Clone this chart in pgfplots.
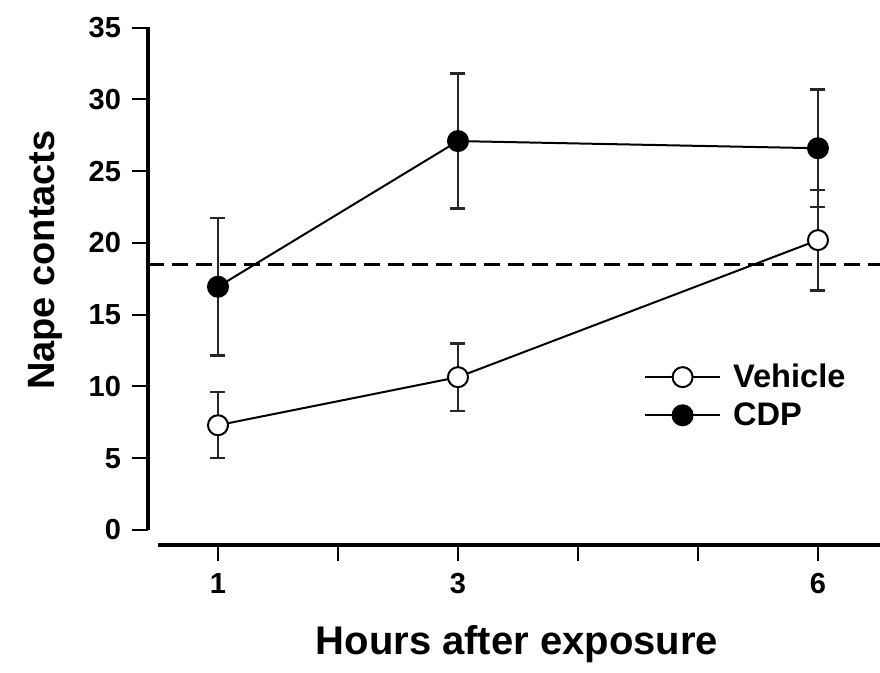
\documentclass[border=0pt]{standalone}
\usepackage{fontspec}
\setmainfont{Liberation Sans}
\usepackage{pgfplots}
\pgfplotsset{compat=1.18}
\begin{document}
\begin{tikzpicture}
\begin{axis}[
  scale only axis, width=366pt, height=259pt,
  at={(0,0)}, anchor=south west,
  xmin=0.4167, xmax=6.517, ymin=-1.045, ymax=35.05,
  axis lines*=left,
  x axis line style={line width=2.4pt, -, shorten <=5pt},
  y axis line style={line width=2.4pt, -, shorten <=7.5pt},
  xtick={1,2,3,4,5,6}, xticklabels={1,,3,,,6},
  ytick={0,5,...,35},
  tick align=outside, major tick length=8pt,
  tick style={line width=1pt, black},
  /pgf/number format/assume math mode=true,
  ticklabel style={font=\bfseries\fontsize{14.5}{14.5}\selectfont},
  xticklabel style={yshift=-2.5pt},
  yticklabel style={xshift=-2pt},
  xlabel={Hours after exposure}, ylabel={Nape contacts},
  xlabel style={font=\bfseries\fontsize{20}{20}\selectfont, at={(axis description cs:0.504,-0.212)}, anchor=base},
  ylabel style={font=\bfseries\fontsize{19}{20}\selectfont, at={(axis description cs:-0.14,0.55)}, anchor=center, rotate=0},
  legend style={draw=none, fill=none, at={(axis description cs:0.669,0.366)}, anchor=north west,
    font=\bfseries\fontsize{16.3}{16.3}\selectfont, row sep=2pt, column sep=4pt},
  legend cell align=left,
  legend image code/.code={\draw[mark repeat=2,mark phase=2,#1] plot coordinates {(0pt,0pt) (18.75pt,0pt) (37.5pt,0pt)};},
  clip=false,
]
\addplot[black, line width=1.2pt, dash pattern=on 8pt off 4pt, forget plot] coordinates {(0.4167,18.5) (6.517,18.5)};
\addplot[black, line width=1pt, mark=*, mark size=5pt, mark options={fill=white, line width=1pt, solid},
  error bars/.cd, y dir=both, y explicit,
  error bar style={line width=1.2pt, black!85},
  error mark options={rotate=90, mark size=3.75pt, line width=1.2pt, black!85}]
  coordinates {(1,7.3) +- (0,2.3) (3,10.65) +- (0,2.35) (6,20.2) +- (0,3.5)};
\addlegendentry{Vehicle}
\addplot[black, line width=1pt, mark=*, mark size=5pt, mark options={fill=black, line width=1pt, solid},
  error bars/.cd, y dir=both, y explicit,
  error bar style={line width=1.2pt, black!85},
  error mark options={rotate=90, mark size=3.75pt, line width=1.2pt, black!85}]
  coordinates {(1,16.95) +- (0,4.8) (3,27.1) +- (0,4.7) (6,26.6) +- (0,4.1)};
\addlegendentry{CDP}
\end{axis}
\pgfresetboundingbox
\path (-74pt,-64pt) rectangle (366pt,272.5pt);
\end{tikzpicture}
\end{document}
